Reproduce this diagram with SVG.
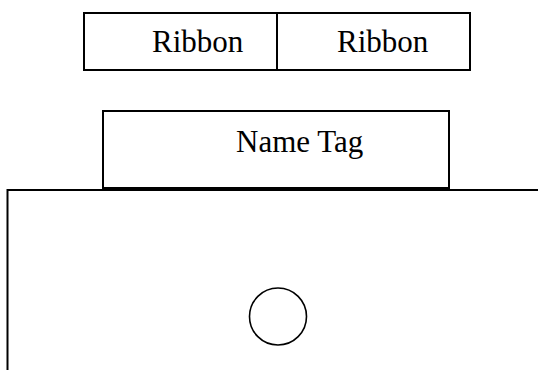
<svg xmlns="http://www.w3.org/2000/svg" width="538" height="370" viewBox="0 0 538 370">
  <style>
    .box { fill: #ffffff; stroke: #000000; stroke-width: 2; }
    .edge { fill: none; stroke: #000000; stroke-width: 2; }
    .label { font-family: "Liberation Serif", "Times New Roman", serif; font-size: 31px; fill: #000000; }
  </style>
  <rect width="538" height="370" fill="#ffffff"/>

  <!-- pair of ribbons -->
  <g id="ribbon-left">
    <rect class="box" x="84" y="13" width="193" height="57"/>
    <text class="label" x="152" y="52">Ribbon</text>
  </g>
  <g id="ribbon-right">
    <rect class="box" x="277" y="13" width="193" height="57"/>
    <text class="label" x="337" y="52">Ribbon</text>
  </g>

  <!-- name tag -->
  <g id="name-tag">
    <rect class="box" x="103" y="111" width="346" height="77"/>
    <text class="label" x="236" y="152">Name Tag</text>
  </g>

  <!-- body outline with button -->
  <g id="body">
    <path class="edge" d="M7.5 370 V190 H538"/>
  </g>
  <g id="button">
    <circle cx="278" cy="316.5" r="28.5" fill="none" stroke="#000000" stroke-width="1.6"/>
  </g>

  <g id="connectors"></g>
</svg>
